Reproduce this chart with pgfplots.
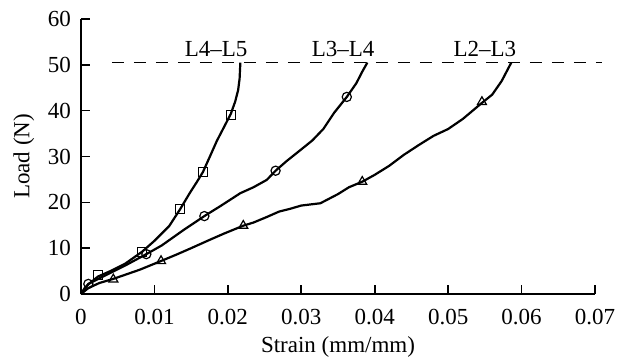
\documentclass[border=0pt]{standalone}
\usepackage{pgfplots}
\pgfplotsset{compat=1.18}
\usepackage{fontspec}
\setmainfont{Liberation Serif}
\begin{document}
\fontsize{11.5}{13}\selectfont
\begin{tikzpicture}
\begin{axis}[
  scale only axis, width=257pt, height=137.5pt,
  xmin=0, xmax=0.07, ymin=0, ymax=60,
  axis x line*=bottom, axis y line*=left,
  axis line style={-, line width=0.8pt},
  tick style={line width=0.8pt, black},
  major tick length=4.5pt,
  tick align=inside,
  scaled x ticks=false,
  xtick={0,0.01,0.02,0.03,0.04,0.05,0.06,0.07},
  xticklabels={0,0.01,0.02,0.03,0.04,0.05,0.06,0.07},
  xticklabel style={yshift=-3.5pt},
  ytick={0,10,20,30,40,50,60},
  yticklabel style={xshift=-1pt},
  /pgf/number format/assume math mode=true,
  xlabel={Strain (mm/mm)}, ylabel={Load (N)},
  xlabel style={yshift=2pt},
  ylabel style={yshift=-1pt},
  clip=false,
  every axis plot/.append style={line width=1.1pt, black},
]
\addplot[dashed, line width=0.8pt, dash pattern=on 6pt off 5pt] coordinates {(0.0042,50.5) (0.071,50.5)};
% L4-L5
\addplot[no marks] coordinates {
(0,0) (0.0005,1.3) (0.001,2.1) (0.0023,3.8) (0.004,5.0) (0.006,6.6) (0.0083,9.2) (0.010,11.6) (0.012,14.8) (0.0135,18.5) (0.0148,22) (0.0158,24.5) (0.0166,26.6) (0.0175,29.8) (0.0185,33.4) (0.0195,36.5) (0.0204,39.3) (0.021,42) (0.0214,44.5) (0.0216,47) (0.0217,50.5)};
\addplot[only marks, mark=square, mark size=2.3pt, mark options={fill=white, line width=0.6pt}] coordinates {(0.0023,4.1) (0.0083,9.2) (0.0135,18.5) (0.0166,26.6) (0.0204,39.1)};
% L3-L4
\addplot[no marks] coordinates {
(0,0) (0.001,2.2) (0.003,3.8) (0.006,6.2) (0.0089,8.7) (0.011,10.6) (0.014,14) (0.0168,17) (0.019,19.2) (0.0217,22) (0.0235,23.3) (0.0253,24.9) (0.0265,26.9) (0.028,29) (0.0298,31.3) (0.0315,33.5) (0.033,36) (0.0345,39.6) (0.0362,43) (0.0375,46) (0.0383,48.5) (0.039,50.5)};
\addplot[only marks, mark=o, mark size=2.3pt, mark options={fill=white, line width=0.6pt}] coordinates {(0.001,2.2) (0.0089,8.7) (0.0168,17) (0.0265,26.9) (0.0362,43)};
% L2-L3
\addplot[no marks] coordinates {
(0,0) (0.001,1.3) (0.0025,2.4) (0.0044,3.3) (0.008,5.3) (0.0109,7.2) (0.013,8.6) (0.015,10) (0.0175,11.8) (0.0195,13.2) (0.0221,14.9) (0.0235,15.6) (0.0253,16.8) (0.027,18) (0.0285,18.6) (0.03,19.3) (0.0326,19.8) (0.035,21.8) (0.0365,23.3) (0.0383,24.5) (0.040,26) (0.042,28) (0.044,30.4) (0.046,32.5) (0.048,34.5) (0.050,36) (0.052,38.2) (0.0546,41.7) (0.056,43.5) (0.0573,46.5) (0.0586,50.5)};
\addplot[only marks, mark=triangle, mark size=2.6pt, mark options={fill=white, line width=0.6pt}] coordinates {(0.0044,3.2) (0.0109,7.2) (0.0221,14.9) (0.0383,24.5) (0.0546,41.9)};
\node[anchor=base] at (axis cs:0.0184,51.9) {L4--L5};
\node[anchor=base] at (axis cs:0.0357,51.9) {L3--L4};
\node[anchor=base] at (axis cs:0.055,51.9) {L2--L3};
\end{axis}
\pgfresetboundingbox
\path[use as bounding box] (-40.5pt,-33pt) rectangle (272pt,147pt);
\end{tikzpicture}
\end{document}
